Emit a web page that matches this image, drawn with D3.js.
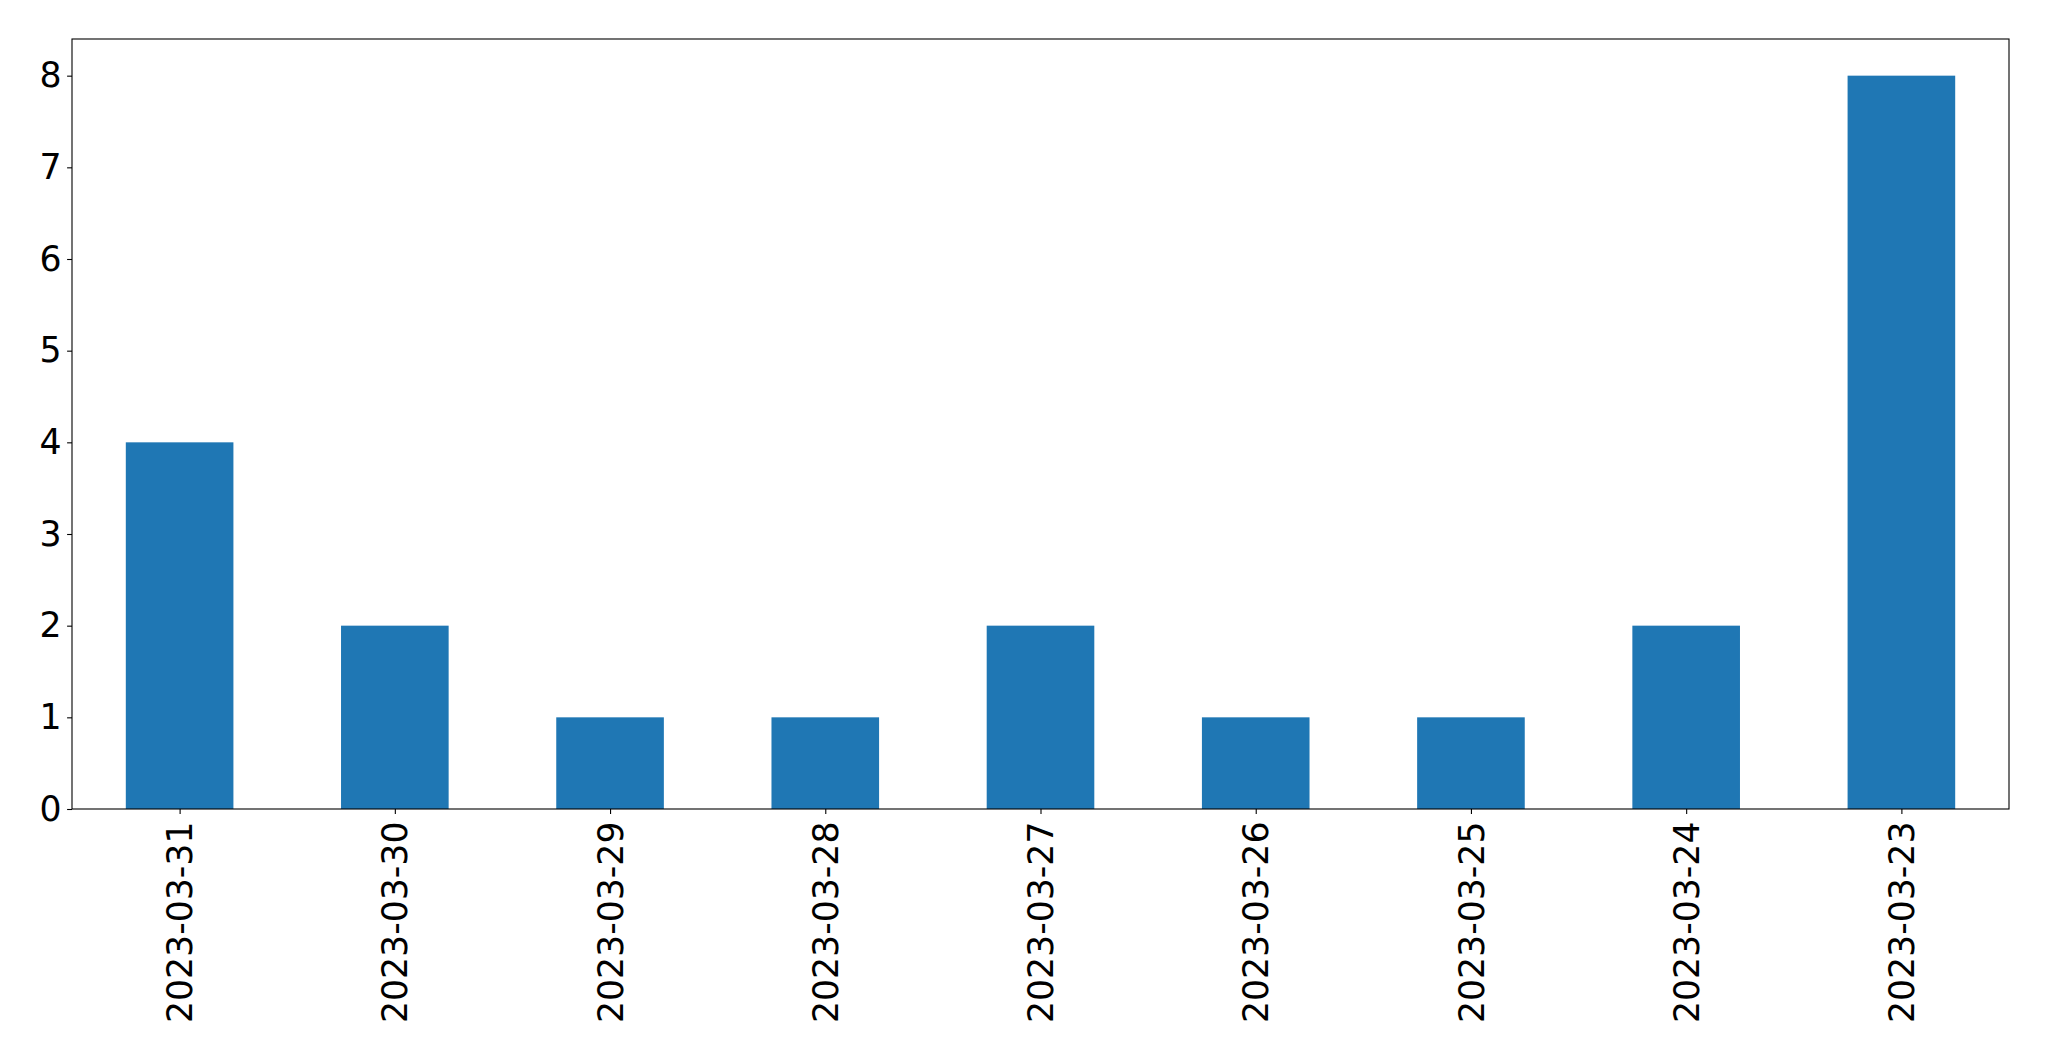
<!DOCTYPE html>
<html>
<head>
<meta charset="utf-8">
<script src="https://cdn.jsdelivr.net/npm/d3@7"></script>
<style>
  html, body { margin: 0; padding: 0; background: #fff; }
  svg { display: block; }
</style>
</head>
<body>
<script>
const categories = ["2023-03-31","2023-03-30","2023-03-29","2023-03-28","2023-03-27","2023-03-26","2023-03-25","2023-03-24","2023-03-23"];
const counts = [4, 2, 1, 1, 2, 1, 1, 2, 8];
const yTicks = [0, 1, 2, 3, 4, 5, 6, 7, 8];

const W = 2049, H = 1061;
const mLeft = 72, mRight = 2009, mTop = 39, mBottom = 809;
const fontSize = 34.7;
const font = "'DejaVu Sans', sans-serif";

const svg = d3.select("body").append("svg").attr("width", W).attr("height", H);

const x = d3.scaleLinear().domain([-0.5, categories.length - 0.5]).range([mLeft, mRight]);
const y = d3.scaleLinear().domain([0, 8.4]).range([mBottom, mTop]);
const barW = 0.5;

svg.append("g").selectAll("rect").data(counts).join("rect")
  .attr("x", (d, i) => x(i - barW / 2))
  .attr("width", (d, i) => x(i + barW / 2) - x(i - barW / 2))
  .attr("y", d => y(d))
  .attr("height", d => y(0) - y(d))
  .attr("fill", "#1f77b4");

// Y axis
const yAxis = d3.axisLeft(y).tickValues(yTicks).tickFormat(d3.format("d")).tickSize(4.9).tickPadding(5.5);
const gy = svg.append("g").attr("transform", `translate(${mLeft},0)`).call(yAxis);
gy.select(".domain").remove();
gy.selectAll("line").attr("stroke", "#000").attr("stroke-width", 1.1);
gy.selectAll("text").attr("font-family", font).attr("font-size", fontSize).attr("fill", "#000");

// X axis
const xAxis = d3.axisBottom(x).tickValues(d3.range(categories.length)).tickFormat(i => categories[i]).tickSize(4.9).tickPadding(4.9);
const gx = svg.append("g").attr("transform", `translate(0,${mBottom})`).call(xAxis);
gx.select(".domain").remove();
gx.selectAll("line").attr("stroke", "#000").attr("stroke-width", 1.1);
gx.selectAll("text")
  .attr("font-family", font).attr("font-size", fontSize).attr("fill", "#000")
  .attr("text-anchor", "end")
  .attr("transform", "rotate(-90)")
  .attr("x", -12.5).attr("y", 0).attr("dy", "0.35em");

// Frame
svg.append("rect").attr("x", mLeft).attr("y", mTop)
  .attr("width", mRight - mLeft).attr("height", mBottom - mTop)
  .attr("fill", "none").attr("stroke", "#000").attr("stroke-width", 1.1);
</script>
</body>
</html>
